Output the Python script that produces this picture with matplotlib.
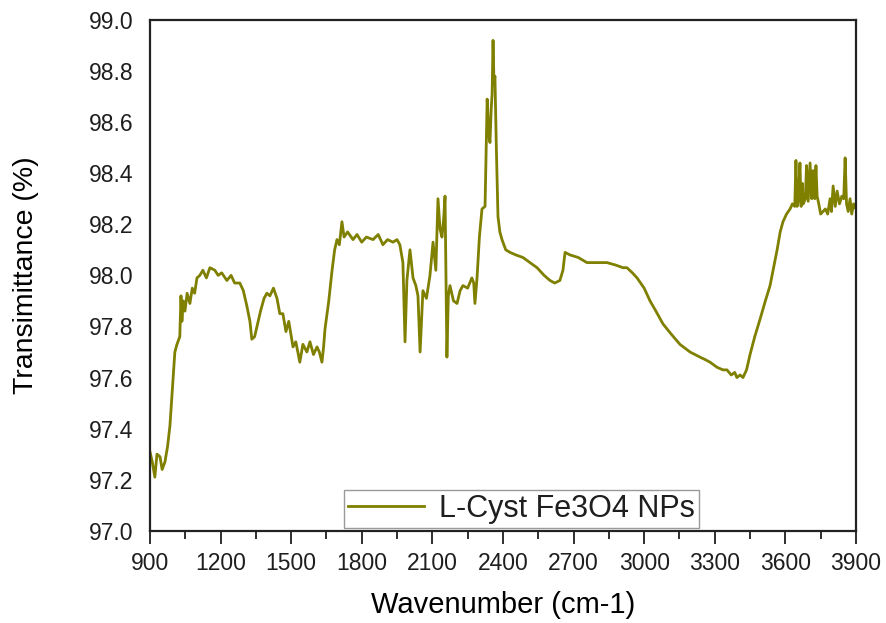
import matplotlib.pyplot as plt
from matplotlib.ticker import MultipleLocator

plt.rcParams['font.family'] = ['Liberation Sans', 'DejaVu Sans']
plt.rcParams['text.color'] = '#1e1e1e'
plt.rcParams['xtick.color'] = '#1e1e1e'
plt.rcParams['ytick.color'] = '#1e1e1e'

# values
wavenumber = [900, 910, 921, 930, 943, 952, 964, 975, 985, 995, 1006, 1015, 1027, 1032, 1036, 1042,
              1049, 1058, 1070, 1080, 1090, 1100, 1112, 1125, 1140, 1155, 1176, 1190, 1205, 1227, 1245,
              1260, 1282, 1297, 1312, 1325, 1333, 1345, 1355, 1370, 1385, 1397, 1410, 1425, 1440, 1452,
              1465, 1478, 1490, 1508, 1520, 1537, 1550, 1567, 1580, 1595, 1610, 1620, 1631, 1638, 1644,
              1660, 1674, 1685, 1695, 1705, 1716, 1725, 1740, 1763, 1780, 1800, 1820, 1848, 1870, 1890,
              1910, 1933, 1950, 1962, 1975, 1984, 1992, 2005, 2018, 2030, 2039, 2048, 2060, 2075, 2090,
              2103, 2115, 2124, 2133, 2141, 2148, 2154, 2162, 2168, 2175, 2190, 2205, 2218, 2230, 2250,
              2268, 2276, 2281, 2290, 2300, 2311, 2324, 2333, 2340, 2345, 2350, 2354, 2358, 2362, 2366,
              2372, 2379, 2387, 2396, 2412, 2430, 2455, 2485, 2515, 2545, 2575, 2600, 2620, 2642, 2655,
              2664, 2685, 2720, 2757, 2800, 2842, 2880, 2910, 2927, 2950, 2970, 3000, 3025, 3050, 3080,
              3115, 3152, 3195, 3237, 3260, 3280, 3310, 3335, 3352, 3370, 3385, 3394, 3408, 3420, 3435,
              3450, 3470, 3493, 3515, 3535, 3550, 3565, 3578, 3590, 3605, 3620, 3630, 3640, 3645, 3650,
              3655, 3662, 3667, 3672, 3676, 3685, 3690, 3697, 3705, 3712, 3718, 3725, 3730, 3735, 3742,
              3750, 3760, 3770, 3780, 3790, 3796, 3803, 3812, 3820, 3830, 3840, 3848, 3854, 3860, 3867,
              3875, 3882, 3890, 3900]
transmittance = [97.31, 97.27, 97.21, 97.30, 97.29, 97.24, 97.27, 97.33, 97.41, 97.55, 97.70, 97.73, 97.76, 97.92, 97.82, 97.90,
                 97.86, 97.93, 97.89, 97.95, 97.93, 97.99, 98.00, 98.02, 97.99, 98.03, 98.02, 98.00, 98.01, 97.98, 98.00,
                 97.97, 97.97, 97.94, 97.88, 97.82, 97.75, 97.76, 97.80, 97.86, 97.91, 97.93, 97.92, 97.95, 97.91, 97.85,
                 97.85, 97.78, 97.82, 97.72, 97.74, 97.66, 97.73, 97.70, 97.74, 97.69, 97.72, 97.70, 97.66, 97.72, 97.79,
                 97.90, 98.02, 98.10, 98.14, 98.12, 98.21, 98.15, 98.17, 98.14, 98.16, 98.13, 98.15, 98.14, 98.16, 98.12,
                 98.14, 98.13, 98.14, 98.12, 98.05, 97.74, 97.98, 98.10, 97.99, 97.96, 97.92, 97.70, 97.94, 97.91, 98.00,
                 98.13, 98.02, 98.30, 98.18, 98.15, 98.22, 98.31, 97.68, 97.92, 97.96, 97.90, 97.89, 97.94, 97.96, 97.95,
                 97.99, 97.97, 97.89, 97.99, 98.15, 98.26, 98.27, 98.69, 98.55, 98.52, 98.65, 98.71, 98.92, 98.75, 98.78,
                 98.50, 98.23, 98.17, 98.14, 98.10, 98.09, 98.08, 98.07, 98.05, 98.03, 98.00, 97.98, 97.97, 97.98, 98.02,
                 98.09, 98.08, 98.07, 98.05, 98.05, 98.05, 98.04, 98.03, 98.03, 98.01, 97.99, 97.95, 97.90, 97.86, 97.81,
                 97.77, 97.73, 97.70, 97.68, 97.67, 97.66, 97.64, 97.63, 97.63, 97.61, 97.62, 97.60, 97.61, 97.60, 97.63,
                 97.69, 97.76, 97.83, 97.90, 97.96, 98.03, 98.10, 98.17, 98.21, 98.24, 98.26, 98.28, 98.27, 98.45, 98.27,
                 98.29, 98.44, 98.27, 98.36, 98.28, 98.30, 98.43, 98.29, 98.44, 98.30, 98.41, 98.30, 98.43, 98.31, 98.28,
                 98.24, 98.25, 98.26, 98.24, 98.30, 98.25, 98.35, 98.27, 98.33, 98.28, 98.31, 98.30, 98.46, 98.28, 98.25,
                 98.30, 98.24, 98.28, 98.26]

fig = plt.figure(figsize=(8.87, 6.23), dpi=100)
ax = fig.add_axes([0.169, 0.148, 0.796, 0.820])

ax.plot(wavenumber, transmittance, color='#7f7f00', lw=2.0, label='L-Cyst Fe3O4 NPs')

ax.set_xlim(900, 3900)
ax.set_ylim(97.0, 99.0)
ax.xaxis.set_major_locator(MultipleLocator(300))
ax.xaxis.set_minor_locator(MultipleLocator(150))
ax.yaxis.set_major_locator(MultipleLocator(0.2))
ax.yaxis.set_major_formatter(plt.FormatStrFormatter('%.1f'))
ax.tick_params(axis='x', which='major', direction='out', length=9.5, width=1.3, labelsize=16.5, pad=6)
ax.tick_params(axis='x', which='minor', direction='out', length=6, width=1.3)
ax.tick_params(axis='y', length=0, labelsize=16.5, pad=12)
for s in ax.spines.values():
    s.set_linewidth(1.6)
    s.set_color('#222222')

ax.set_xlabel('Wavenumber (cm-1)', fontsize=21, labelpad=11)
ax.set_ylabel('Transimittance (%)', fontsize=20.5, labelpad=36)

leg = ax.legend(loc='lower center', bbox_to_anchor=(0.526, 0.006), fontsize=22, handlelength=2.5,
                fancybox=False, framealpha=1, borderpad=0.12, handletextpad=0.5, borderaxespad=0)
leg.get_frame().set_edgecolor('#999999')
leg.get_frame().set_linewidth(1.0)

fig.savefig('out.png', dpi=100)
